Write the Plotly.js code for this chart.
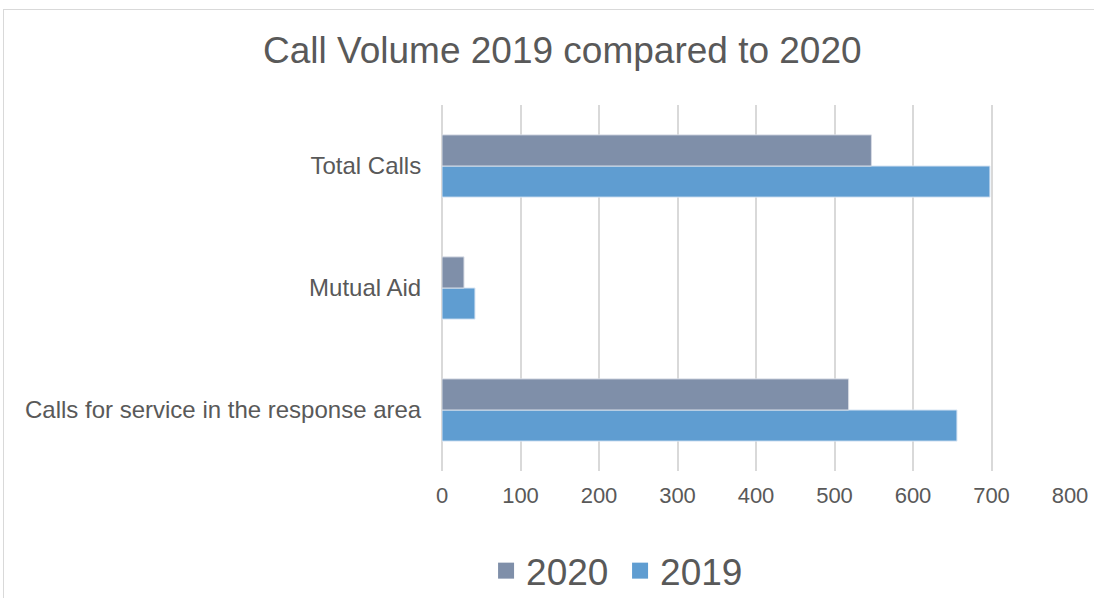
<!DOCTYPE html>
<html>
<head>
<meta charset="utf-8">
<script src="https://cdn.plot.ly/plotly-3.0.1.min.js"></script>
<style>
html,body{margin:0;padding:0;background:#fff;overflow:hidden;}
#frame{position:absolute;left:3px;top:9px;width:1100px;height:600px;border:1px solid #d9d9d9;box-sizing:border-box;}
#chart{position:absolute;left:0;top:0;width:1094px;height:598px;}
</style>
</head>
<body>
<div id="frame"></div>
<div id="chart"></div>
<script>
const categories = ["Calls for service in the response area", "Mutual Aid", "Total Calls"];
const values2019 = [656, 42, 698];
const values2020 = [518, 28, 547];
const seriesNames = ["2019", "2020"];
const seriesColors = ["#5f9dd1", "#7f8fa9"];
const tickValues = [0, 100, 200, 300, 400, 500, 600, 700, 800];

const textColor = "#595959";
const font = "Liberation Sans, Arial, sans-serif";

const traces = [
  {type: "bar", orientation: "h", name: seriesNames[0], y: categories, x: values2019, showlegend: false,
   marker: {color: seriesColors[0], line: {color: "#d6e4f3", width: 1}}},
  {type: "bar", orientation: "h", name: seriesNames[1], y: categories, x: values2020, showlegend: false,
   marker: {color: seriesColors[1], line: {color: "#d6dbe4", width: 1}}},
  // legend entries (square swatches)
  {type: "scatter", mode: "markers", name: seriesNames[1], x: [null], y: [null],
   marker: {symbol: "square", size: 17, color: seriesColors[1]}},
  {type: "scatter", mode: "markers", name: seriesNames[0], x: [null], y: [null],
   marker: {symbol: "square", size: 17, color: seriesColors[0]}}
];

const layout = {
  width: 1094, height: 598,
  paper_bgcolor: "rgba(0,0,0,0)", plot_bgcolor: "rgba(0,0,0,0)",
  margin: {l: 442, r: 24, t: 105, b: 127},
  barmode: "group", bargap: 0.49, bargroupgap: 0,
  font: {family: font, color: textColor},
  title: {text: "Call Volume 2019 compared to 2020", font: {size: 37, color: textColor, family: font},
          x: 0.514, xref: "container", xanchor: "center", y: 0.916, yref: "container", yanchor: "middle"},
  xaxis: {range: [0, 800], tickvals: tickValues, showgrid: true, gridcolor: "#d9d9d9", gridwidth: 2,
          zeroline: true, zerolinecolor: "#d9d9d9", zerolinewidth: 2, showline: false,
          ticks: "outside", ticklen: 5, tickcolor: "rgba(0,0,0,0)",
          tickfont: {size: 22, color: textColor}, fixedrange: true},
  yaxis: {type: "category", showgrid: false, zeroline: false, showline: false,
          ticks: "outside", ticklen: 15, tickcolor: "rgba(0,0,0,0)",
          tickfont: {size: 24, color: textColor}, fixedrange: true},
  showlegend: true,
  legend: {orientation: "h", x: 0.4443, xref: "container", xanchor: "left",
           y: 0.045, yref: "container", yanchor: "middle",
           font: {size: 37, color: textColor}, itemwidth: 30,
           entrywidth: 89, entrywidthmode: "pixels"}
};

Plotly.newPlot("chart", traces, layout, {displayModeBar: false, staticPlot: true});
</script>
</body>
</html>
